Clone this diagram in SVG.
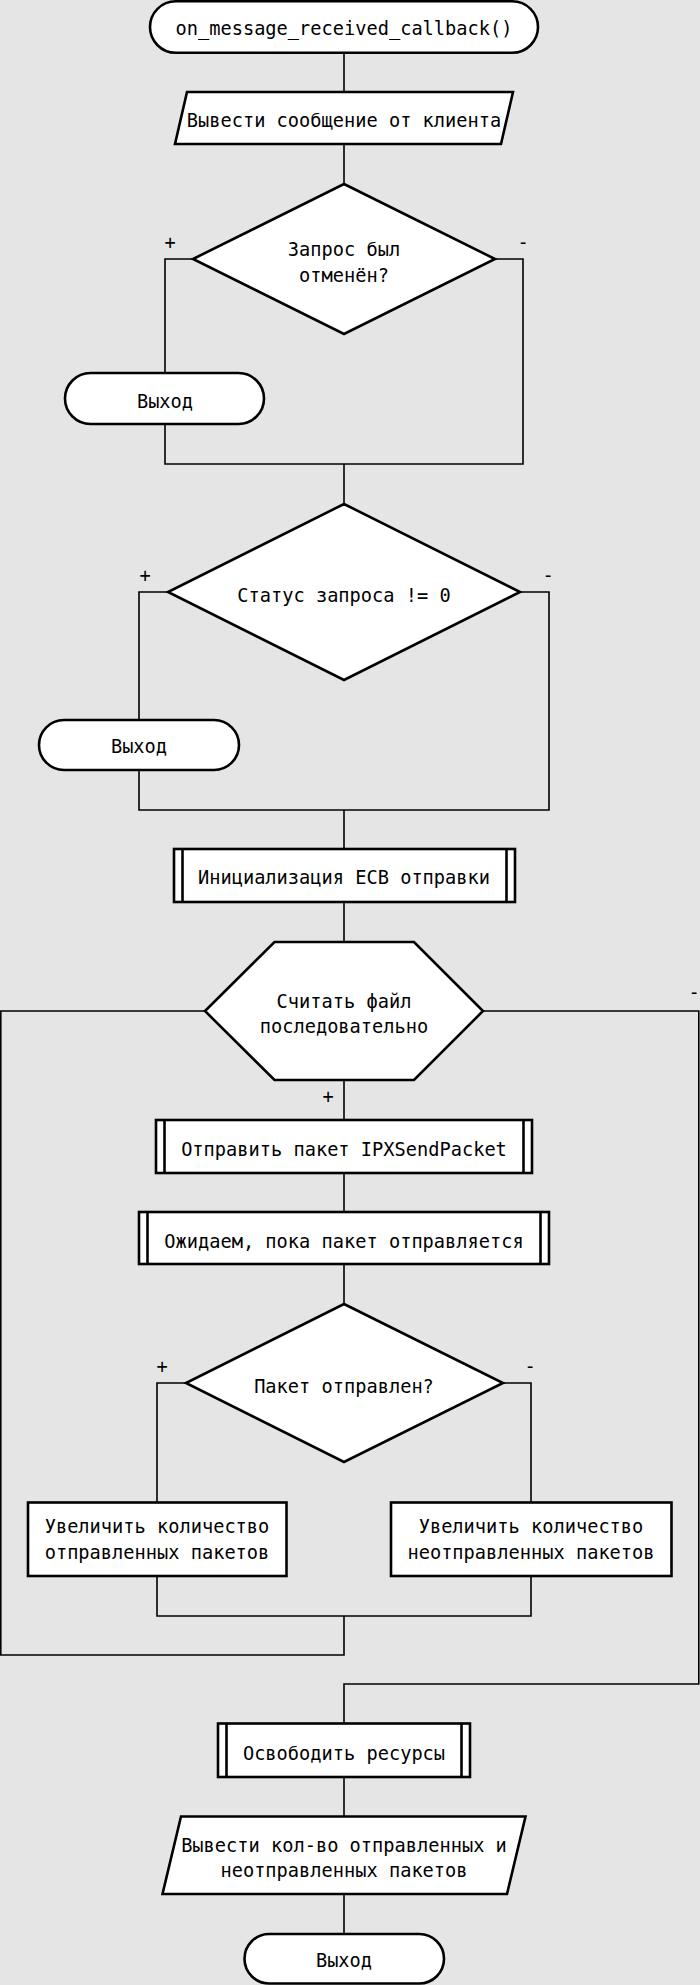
<svg xmlns="http://www.w3.org/2000/svg" width="700" height="1985" viewBox="0 0 700 1985">
<style>
.n{fill:#fff;stroke:#000;stroke-width:2.6}
.c{fill:none;stroke:#000;stroke-width:1.6}
text{font-family:"DejaVu Sans Mono","Liberation Mono",monospace;font-size:18.67px;fill:#000;text-anchor:middle}
</style>
<rect width="700" height="1985" fill="#e5e5e5"/>
<g id="connectors">
<polyline class="c" points="344,53 344,92"/>
<polyline class="c" points="344,144 344,184"/>
<polyline class="c" points="193,259 165,259 165,373"/>
<polyline class="c" points="165,424 165,464 523,464 523,259 495,259"/>
<polyline class="c" points="344,464 344,504"/>
<polyline class="c" points="168,592 139,592 139,720"/>
<polyline class="c" points="139,770 139,810 549,810 549,592 520,592"/>
<polyline class="c" points="344,810 344,849"/>
<polyline class="c" points="344,902 344,942"/>
<polyline class="c" points="205,1011 0.8,1011 0.8,1655 344,1655 344,1616"/>
<polyline class="c" points="483,1011 698.8,1011 698.8,1684 344,1684 344,1723"/>
<polyline class="c" points="344,1080 344,1120"/>
<polyline class="c" points="344,1173 344,1212"/>
<polyline class="c" points="344,1264 344,1304"/>
<polyline class="c" points="186,1383 157,1383 157,1502"/>
<polyline class="c" points="503,1383 531,1383 531,1502"/>
<polyline class="c" points="157,1576 157,1616 531,1616 531,1576"/>
<polyline class="c" points="344,1777 344,1816"/>
<polyline class="c" points="344,1894 344,1934"/>
</g>
<g id="start">
<rect class="n" x="150" y="1.3" width="388" height="51.5" rx="25.7"/>
<text x="344" y="35">on_message_received_callback()</text>
</g>
<g id="print1">
<polygon class="n" points="187,92 513,92 501,144 175,144"/>
<text x="344" y="127">Вывести сообщение от клиента</text>
</g>
<g id="dec1">
<polygon class="n" points="344,184 495,259 344,334 193,259"/>
<text x="344" y="256">Запрос был</text>
<text x="344" y="282">отменён?</text>
<text x="170" y="249">+</text>
<text x="523" y="249">-</text>
</g>
<g id="exit1">
<rect class="n" x="65" y="373" width="199" height="51" rx="25.5"/>
<text x="165" y="408">Выход</text>
</g>
<g id="dec2">
<polygon class="n" points="344,504 520,592 344,680 168,592"/>
<text x="344" y="602">Статус запроса != 0</text>
<text x="145" y="582">+</text>
<text x="548" y="582">-</text>
</g>
<g id="exit2">
<rect class="n" x="39" y="720" width="200" height="50" rx="25"/>
<text x="139" y="753">Выход</text>
</g>
<g id="init">
<rect class="n" x="174" y="849" width="341" height="53"/>
<line class="n" x1="182.5" y1="849" x2="182.5" y2="902"/>
<line class="n" x1="506.5" y1="849" x2="506.5" y2="902"/>
<text x="344" y="884">Инициализация ECB отправки</text>
</g>
<g id="loop">
<polygon class="n" points="274.5,942 414,942 483,1011 414,1080 274.5,1080 205,1011"/>
<text x="344" y="1008">Считать файл</text>
<text x="344" y="1033">последовательно</text>
<text x="328" y="1103">+</text>
<text x="694" y="999">-</text>
</g>
<g id="send">
<rect class="n" x="156" y="1120" width="376" height="53"/>
<line class="n" x1="164.5" y1="1120" x2="164.5" y2="1173"/>
<line class="n" x1="523.5" y1="1120" x2="523.5" y2="1173"/>
<text x="344" y="1156">Отправить пакет IPXSendPacket</text>
</g>
<g id="wait">
<rect class="n" x="139" y="1212" width="410" height="52"/>
<line class="n" x1="147.5" y1="1212" x2="147.5" y2="1264"/>
<line class="n" x1="540.5" y1="1212" x2="540.5" y2="1264"/>
<text x="344" y="1248">Ожидаем, пока пакет отправляется</text>
</g>
<g id="dec3">
<polygon class="n" points="344,1304 503,1383 344,1462 186,1383"/>
<text x="344" y="1393">Пакет отправлен?</text>
<text x="162" y="1373">+</text>
<text x="530" y="1373">-</text>
</g>
<g id="incSent">
<rect class="n" x="28" y="1502.5" width="258.5" height="73.5"/>
<text x="157" y="1533">Увеличить количество</text>
<text x="157" y="1559">отправленных пакетов</text>
</g>
<g id="incUnsent">
<rect class="n" x="391" y="1502.5" width="280.5" height="73.5"/>
<text x="531" y="1533">Увеличить количество</text>
<text x="531" y="1559">неотправленных пакетов</text>
</g>
<g id="free">
<rect class="n" x="218" y="1723.5" width="252" height="53.5"/>
<line class="n" x1="226.5" y1="1723.5" x2="226.5" y2="1777"/>
<line class="n" x1="461.5" y1="1723.5" x2="461.5" y2="1777"/>
<text x="344" y="1760">Освободить ресурсы</text>
</g>
<g id="print2">
<polygon class="n" points="181,1816.5 525.5,1816.5 507,1894 162.5,1894"/>
<text x="344" y="1852">Вывести кол-во отправленных и</text>
<text x="344" y="1877">неотправленных пакетов</text>
</g>
<g id="exit3">
<rect class="n" x="244.5" y="1934" width="199.5" height="49.5" rx="24.7"/>
<text x="344" y="1967">Выход</text>
</g>
</svg>
